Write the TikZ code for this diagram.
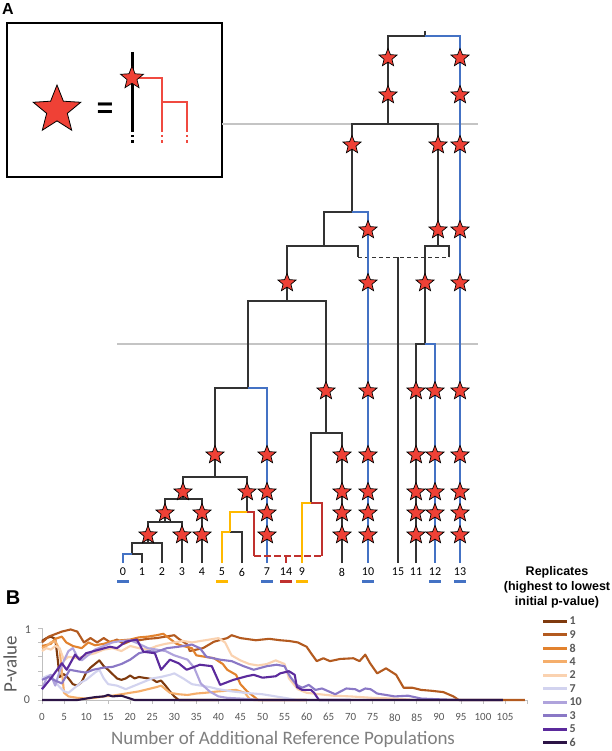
\documentclass[tikz,border=0pt]{standalone}
\usepackage{fontspec}
\setmainfont{Carlito}
\newfontfamily\arialfont{Liberation Sans}
\usetikzlibrary{positioning,shapes.geometric}
\definecolor{treeblue}{HTML}{4472C4}
\definecolor{treered}{HTML}{C0312E}
\definecolor{treeyellow}{HTML}{FFB900}
\definecolor{starred}{HTML}{EF4136}
\definecolor{keyred}{HTML}{F04A40}
\definecolor{guide}{HTML}{C4C4C4}
\definecolor{axisgray}{HTML}{BFBFBF}
\definecolor{textgray}{HTML}{595959}
\definecolor{titlegray}{HTML}{7F7F7F}
\definecolor{rep1}{HTML}{7F3A0E}
\definecolor{rep9}{HTML}{B35A1F}
\definecolor{rep8}{HTML}{E2822E}
\definecolor{rep4}{HTML}{F5AE6B}
\definecolor{rep2}{HTML}{FAD2B0}
\definecolor{rep7}{HTML}{D2D3EF}
\definecolor{rep10}{HTML}{AFA3DC}
\definecolor{rep3}{HTML}{8A78C6}
\definecolor{rep5}{HTML}{5B2A9C}
\definecolor{rep6}{HTML}{2C1446}
\tikzset{
  branch/.style={draw=black!80, line width=1.2pt},
  bluebranch/.style={draw=treeblue, line width=2pt},
  redbranch/.style={draw=treered, line width=1.8pt},
  yellowbranch/.style={draw=treeyellow, line width=1.8pt},
  mut/.style={star, star points=5, star point ratio=2.3, draw=black, line width=0.7pt,
    fill=starred, minimum size=19pt, inner sep=0pt},
  leaflab/.style={font=\fontsize{12}{14}\selectfont, inner sep=1pt},
  tag/.style={minimum width=12pt, minimum height=3pt, inner sep=0pt},
  series/.style={line width=2.1pt, line join=round},
  axisline/.style={draw=axisgray, line width=0.8pt},
  ticklab/.style={font=\fontsize{11}{13}\selectfont, text=textgray},
  keyline/.style={line width=3pt},
}

\begin{document}
\begin{tikzpicture}[x=1pt,y=-1pt]
  \fill[white] (0,0) rectangle (612,751);
  \useasboundingbox (0,0) rectangle (612,751);

  \node[font=\arialfont\bfseries\fontsize{16}{18}\selectfont] (pa) at (8,9) {A};
  \node[font=\arialfont\bfseries\fontsize{20}{22}\selectfont] (pb) at (13,598) {B};

  \draw[line width=2.5pt] (7,23) rectangle (222,177);
  \node[mut, minimum size=50pt, line width=0.8pt] (bigstar) at (57,110) {};
  \node[font=\arialfont\bfseries\fontsize{28}{30}\selectfont] (eq) at (105,110) {=};
  \draw[line width=3pt] (132,52) -- (132,132);
  \draw[line width=3pt, dash pattern=on 2.5pt off 3pt] (132,135) -- (132,144);
  \draw[line width=2.6pt, keyred] (132,78) -| (162,132) (162,102) -| (187,132);
  \draw[line width=2.6pt, keyred, dash pattern=on 2.5pt off 3pt]
    (162,135) -- (162,144) (187,135) -- (187,144);
  \node[mut, minimum size=24pt] (smallstar) at (132,78) {};

  \draw[guide, line width=1.2pt] (222,124) -- (478,124);
  \draw[guide, line width=1.2pt] (117,344) -- (478,344);

  \foreach \n/\x in {0/123,1/142,2/162,3/182,4/202,5/222,6/242,7/267,14/286,
      9/302,8/342,10/368,15/398,11/416,12/435,13/460} {
    \coordinate (t\n) at (\x,563);
    \node[leaflab, below=4pt of t\n] (lab\n) {\n};
  }
  \foreach \n/\c in {0/treeblue,5/treeyellow,7/treeblue,14/treered,9/treeyellow,
      10/treeblue,12/treeblue,13/treeblue}
    \node[tag, fill=\c, below=3pt of lab\n] (tag\n) {};

  \coordinate (top) at (425,31);
  \coordinate (r) at (425,36);
  \coordinate (n1) at (388,124);
  \coordinate (n2) at (352,212);
  \coordinate (n3) at (324,246);
  \coordinate (n4) at (438,246);
  \coordinate (h1) at (358,257);
  \coordinate (h2) at (449,257);
  \coordinate (n5) at (287,301);
  \coordinate (n16) at (425,344);
  \coordinate (n6) at (248,388);
  \coordinate (n14) at (326,433);
  \coordinate (n7) at (215,477);
  \coordinate (n8) at (183,499);
  \coordinate (n15) at (311,503);
  \coordinate (n12) at (247,512);
  \coordinate (n9) at (165,522);
  \coordinate (n13) at (230,532);
  \coordinate (n10) at (148,543);
  \coordinate (n11) at (132,554);
  \coordinate (d1) at (254,556);
  \coordinate (d2) at (322,556);

  \draw[branch] (top) -- (r) -| (n1);
  \draw[branch] (n1) -| (n2) (n1) -| (n4);
  \draw[branch] (n2) -| (n3);
  \draw[branch] (n3) -| (n5) (n3) -| (h1);
  \draw[branch] (n4) -| (n16) (n4) -| (h2);
  \draw[branch, line width=0.8pt, dash pattern=on 4pt off 3pt] (h1) -- (h2);
  \draw[branch] (h1 -| t15) -- (t15);
  \draw[branch] (n16) -| (t11);
  \draw[branch] (n5) -| (n6) (n5) -| (n14);
  \draw[branch] (n6) -| (n7);
  \draw[branch] (n7) -| (n8) (n7) -| (n12);
  \draw[branch] (n8) -| (n9) (n8) -| (t4);
  \draw[branch] (n9) -| (n10) (n9) -| (t3);
  \draw[branch] (n10) -| (n11) (n10) -| (t2);
  \draw[branch] (n11) -| (t1);
  \draw[branch] (n13) -| (t6);
  \draw[branch] (n14) -| (n15) (n14) -| (t8);

  \draw[bluebranch] (r) -| (t13);
  \draw[bluebranch] (n2) -| (t10);
  \draw[bluebranch] (n16) -| (t12);
  \draw[bluebranch] (n6) -| (t7);
  \draw[bluebranch] (n11) -| (t0);
  \draw[yellowbranch] (n12) -| (n13) (n13) -| (t5);
  \draw[yellowbranch] (n15) -| (t9);
  \draw[redbranch] (n12) -| (d1) (n15) -| (d2);
  \draw[redbranch, dash pattern=on 7pt off 3pt] (d1) -- (d2);
  \draw[redbranch] (d1 -| t14) -- (t14);

  \foreach \x/\ys [count=\i] in {388/{58,95}, 460/{58,95,145,230,283,391,455,492,513,535},
      352/{145}, 438/{145,230}, 368/{230,283,391,455,492,513,535}, 287/{283}, 425/{283},
      416/{391,455,492,513,535}, 435/{391,455,492,513,535}, 326/{391},
      342/{455,492,513,535}, 267/{455,492,513,535}, 215/{455}, 247/{492}, 183/{492},
      165/{513}, 202/{513,535}, 148/{535}, 182/{535}}
    \foreach \y [count=\j] in \ys
      \node[mut] (s\i-\j) at (\x,\y) {};

  \begin{scope}[shift={(42,700)}, x=4.41pt, y=72pt]
    \draw[axisline] (0,1) -- (0,0) -- (110,0);
    \foreach \k in {0,...,5}
      \draw[axisline] (0,\k/5) -- ++(-4pt,0);
    \foreach \u in {0,5,...,110}
      \draw[axisline] (\u,0) -- ++(0,-4pt);
    \foreach \u in {0,5,...,105}
      \node[ticklab] (xl\u) at (\u,-0.24) {\u};
    \node[ticklab, font=\fontsize{12}{14}\selectfont] (yl1) at (-3.2,0.98) {1};
    \node[ticklab, font=\fontsize{12}{14}\selectfont] (yl0) at (-3.4,0) {0};

    \draw[series, rep1] plot coordinates {(0,0.82) (1,0.86) (2,0.88) (3,0.85) (3.5,0.6)
      (4,0.32) (5,0.36) (6,0.3) (7,0.22) (8,0.2) (9,0.25) (10,0.38) (11,0.45) (12,0.5)
      (13,0.55) (14,0.47) (15,0.42) (16,0.36) (17,0.3) (18,0.28) (19,0.3) (20,0.34)
      (21,0.3) (22,0.32) (24,0.3) (25,0.29) (26,0.25) (27,0.27) (28,0.2) (29,0.12)
      (30,0.05) (31,0) (40,0)};
    \draw[series, rep9] plot coordinates {(0,0.8) (1.5,0.88) (4.5,0.95) (6.5,0.98)
      (8,0.95) (9.5,0.8) (11,0.86) (12.5,0.8) (14,0.86) (15.5,0.8) (17,0.84) (18.5,0.78)
      (20,0.82) (22,0.83) (24,0.85) (26,0.86) (28,0.88) (30,0.9) (31,0.85) (33,0.77)
      (33.5,0.68) (36.5,0.72) (39,0.81) (42,0.86) (43,0.9) (45,0.86) (48.5,0.83)
      (51.5,0.85) (54,0.83) (56,0.82) (58,0.8) (60,0.74) (61,0.65) (62.3,0.54)
      (63.8,0.58) (65.3,0.54) (67.6,0.57) (70.6,0.58) (72,0.54) (73.3,0.63) (74.4,0.51)
      (76,0.37) (78,0.44) (80.3,0.35) (82,0.17) (84,0.17) (86,0.14) (88,0.13) (91,0.11)
      (93.3,0.05) (94.5,0) (109.5,0)};
    \draw[series, rep8] plot coordinates {(0,0.75) (2,0.78) (3,0.85) (4.5,0.88) (5.5,0.8)
      (7,0.75) (9,0.72) (10.5,0.8) (12,0.76) (14,0.78) (16,0.82) (18,0.83) (20,0.84)
      (22,0.87) (24,0.88) (26,0.9) (27.5,0.92) (29,0.85) (30.5,0.78) (32,0.75) (34,0.72)
      (35,0.62) (37,0.6) (39,0.58) (41,0.5) (42,0.42) (44,0.35) (45,0.22) (46.5,0.12)
      (48,0.05) (49,0) (60,0)};
    \draw[series, rep4] plot coordinates {(0,0.72) (1,0.75) (2,0.8) (3,0.82) (4,0.7)
      (5,0.1) (6,0.05) (8,0.03) (10,0.02) (12,0.03) (14,0.05) (16,0.06) (18,0.08)
      (20,0.1) (22,0.12) (24,0.15) (26,0.18) (27,0.2) (28,0.15) (29,0.1) (31,0.08)
      (33,0.07) (35,0.09) (37,0.1) (40,0.12) (42,0.13) (44,0.14) (46,0.1) (47,0.02)
      (48,0) (60,0)};
    \draw[series, rep2] plot coordinates {(0,0.68) (1,0.72) (2,0.7) (3,0.75) (4,0.72)
      (5,0.55) (6,0.6) (8,0.58) (10,0.62) (12,0.65) (14,0.7) (16,0.72) (18,0.68)
      (20,0.75) (22,0.72) (24,0.7) (26,0.75) (28,0.78) (30,0.8) (32,0.82) (34,0.8)
      (36,0.82) (38,0.84) (40,0.86) (41.5,0.8) (43,0.62) (45,0.55) (47,0.5) (49,0.48)
      (51,0.5) (53,0.55) (55,0.5) (56,0.3) (58,0.15) (60,0.1) (63,0.08) (66,0.06)
      (70,0.05) (75,0.03) (80,0.02) (85,0) (95,0)};
    \draw[series, rep7] plot coordinates {(0,0.3) (1,0.33) (2,0.35) (3,0.25) (4,0.18)
      (5,0.12) (6,0.1) (7,0.15) (8,0.2) (9,0.25) (10,0.28) (12,0.38) (13,0.42) (14,0.3)
      (15,0.22) (17,0.2) (19,0.15) (21,0.2) (23,0.25) (25,0.3) (27,0.32) (29,0.35)
      (30,0.37) (32,0.3) (34,0.22) (36,0.2) (38,0.18) (40,0.15) (43,0.12) (46,0.1)
      (50,0.08) (53,0.05) (56,0.02) (58,0) (70,0)};
    \draw[series, rep10] plot coordinates {(0,0.15) (1,0.3) (2,0.35) (3,0.2) (4,0.4)
      (5,0.55) (6,0.68) (7,0.72) (8,0.6) (9,0.55) (10,0.6) (12,0.7) (14,0.75) (16,0.8)
      (18,0.82) (20,0.83) (22,0.78) (24,0.72) (26,0.7) (28,0.68) (30,0.62) (32,0.58)
      (33,0.56) (34.5,0.45) (36,0.23) (38,0.12) (40,0.05) (42,0.03) (45,0.02) (50,0)
      (60,0)};
    \draw[series, rep3] plot coordinates {(0,0.28) (1.5,0.32) (3,0.27) (4.5,0.23)
      (6.3,0.42) (8,0.4) (10,0.38) (11.6,0.42) (14,0.45) (16,0.46) (18,0.5) (20,0.56)
      (22,0.65) (24,0.68) (26,0.67) (28.3,0.72) (31,0.74) (34,0.77) (35.8,0.72)
      (37.3,0.6) (40.4,0.56) (43,0.54) (45.7,0.47) (48,0.42) (51,0.47) (53.2,0.49)
      (55,0.47) (56.2,0.33) (57.7,0.21) (59,0.17) (60.5,0.21) (62,0.14) (63.5,0.16)
      (66.5,0.08) (69,0.16) (71,0.15) (72,0.12) (73.3,0.16) (74.5,0.15) (76,0.09)
      (80,0.05) (83,0.06) (86,0.02) (90,0.01) (95,0) (104.5,0)};
    \draw[series, rep5] plot coordinates {(0,0.15) (2,0.3) (4.5,0.51) (5.6,0.42)
      (7.5,0.63) (8.5,0.56) (10,0.65) (13,0.7) (15.4,0.74) (17,0.72) (19,0.81)
      (21.5,0.84) (23,0.67) (25.6,0.65) (27,0.42) (29,0.56) (31,0.51) (32.8,0.42)
      (35.8,0.49) (38.5,0.47) (40.4,0.21) (43.4,0.28) (46.4,0.33) (48,0.35) (50,0.31)
      (53,0.33) (54,0.37) (56,0.4) (57.3,0.35) (57.8,0.18) (59,0.14) (61,0.14)
      (61.7,0.1) (62.8,0) (70,0)};
    \draw[series, rep6] plot coordinates {(0,0) (8,0) (10,0.02) (12,0.04) (14,0.05)
      (15,0.07) (16,0.05) (18,0.06) (19,0.04) (20,0.02) (21,0) (104.5,0)};
  \end{scope}

  \node[font=\fontsize{19}{21}\selectfont, text=textgray, rotate=90] (ylab) at (10,664) {P-value};
  \node[font=\fontsize{19}{21}\selectfont, text=titlegray] (xlab) at (283,739)
    {Number of Additional Reference Populations};

  \node[font=\arialfont\bfseries\fontsize{12.5}{15}\selectfont, align=center] (keytitle)
    at (557,587) {Replicates\\(highest to lowest\\initial p-value)};
  \foreach \r [count=\i from 0] in {1,9,8,4,2,7,10,3,5,6} {
    \coordinate (k\r) at (543,{621+13.5*\i});
    \draw[keyline, rep\r] (k\r) -- ++(24pt,0)
      node[right, inner sep=1pt, font=\bfseries\fontsize{12}{14}\selectfont, text=textgray] (kl\r) {\r};
  }
\end{tikzpicture}
\end{document}
